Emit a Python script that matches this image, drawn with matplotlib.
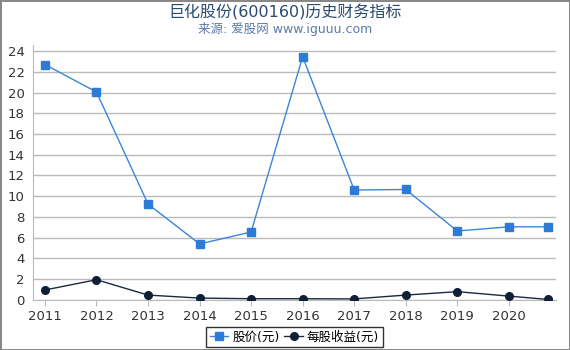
import matplotlib
matplotlib.use("Agg")
import matplotlib.pyplot as plt

plt.rcParams['font.family'] = ['DejaVu Sans', 'Noto Sans CJK SC']

years = [2011, 2012, 2013, 2014, 2015, 2016, 2017, 2018, 2019, 2020, 2020.76]
price = [22.7, 20.05, 9.25, 5.4, 6.55, 23.45, 10.6, 10.65, 6.65, 7.05, 7.05]
eps = [0.96, 1.95, 0.47, 0.18, 0.12, 0.12, 0.1, 0.47, 0.8, 0.37, 0.05]
tick_years = [2011, 2012, 2013, 2014, 2015, 2016, 2017, 2018, 2019, 2020]
y_ticks = list(range(0, 25, 2))

fig = plt.figure(figsize=(5.7, 3.5), dpi=100)
fig.patch.set_edgecolor("#888888")
fig.patch.set_linewidth(2)

ax = fig.add_axes([0.058, 0.143, 0.917, 0.729])
ax.plot(years, price, color="#3a86d8", lw=1, marker="s", ms=5.5,
        mfc="#2e7bd6", mec="#2e7bd6", label="股价(元)", zorder=3)
ax.plot(years, eps, color="#1a2a40", lw=1, marker="o", ms=5.5,
        mfc="#0f1f35", mec="#0f1f35", label="每股收益(元)", zorder=3)

ax.set_xlim(2010.77, 2020.91)
ax.set_ylim(0, 24.6)
ax.set_xticks(tick_years)
ax.set_xticklabels([str(y) for y in tick_years])
ax.set_yticks(y_ticks)
ax.grid(axis="y", color="#bbbbbb", lw=1)
ax.set_axisbelow(True)
for s in ["top", "right"]:
    ax.spines[s].set_visible(False)
ax.spines["left"].set_color("#bbbbbb")
ax.spines["bottom"].set_color("#bbbbbb")
ax.tick_params(axis="x", colors="#bbbbbb", length=4, labelcolor="#333333",
               labelsize=9.5)
ax.tick_params(axis="y", length=0, labelcolor="#333333", labelsize=9.5, pad=6)

fig.text(0.5, 0.965, "巨化股份(600160)历史财务指标", ha="center", va="center",
         fontsize=11.5, color="#2b4a70")
fig.text(0.5, 0.918, "来源: 爱股网 www.iguuu.com", ha="center", va="center",
         fontsize=9, color="#5a7aa8")

leg = ax.legend(loc="center", bbox_to_anchor=(0.5, -0.145), ncol=2,
                fontsize=9, frameon=True, fancybox=False, handlelength=1.5,
                handletextpad=0.3, columnspacing=0.4, borderpad=0.3)
leg.get_frame().set_edgecolor("black")
leg.get_frame().set_linewidth(1)

fig.savefig("out.png", dpi=100)
